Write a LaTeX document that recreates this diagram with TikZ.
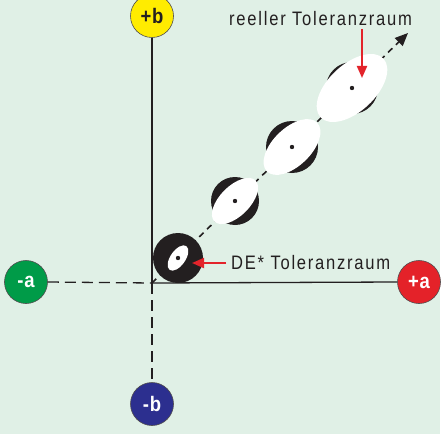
\documentclass[tikz,border=0pt]{standalone}
\usepackage{fontspec}
\setmainfont{Liberation Sans}[FakeStretch=0.85, LetterSpace=9]
\newfontfamily\lblfont{Liberation Sans}[FakeStretch=0.88, LetterSpace=4]
\usetikzlibrary{arrows.meta}
\definecolor{mint}{HTML}{E0F0E6}
\definecolor{ink}{HTML}{231F20}
\definecolor{cyel}{HTML}{FFEC00}
\definecolor{cgrn}{HTML}{009B48}
\definecolor{cred}{HTML}{E42229}
\definecolor{cblu}{HTML}{2C2F8F}
\definecolor{arred}{HTML}{E3242B}
\tikzset{
  axcirc/.style={circle, draw=ink!80, line width=0.6pt, minimum size=43pt, inner sep=0pt,
    font=\lblfont\bfseries\fontsize{21}{21}\selectfont},
  axline/.style={draw=ink, line width=1.3pt},
  axdash/.style={axline, dash pattern=on 11pt off 6pt},
  diag/.style={draw=ink, line width=1.6pt, dash pattern=on 6pt off 5pt, -{Triangle[length=13pt,width=11pt]}},
  redarr/.style={draw=arred, line width=2pt, -{Triangle[length=12pt,width=10pt]}},
  lbl/.style={anchor=west, inner sep=0pt, text=ink, font=\fontsize{19.5}{19.5}\selectfont},
  dot/.style={fill=ink}
}
\begin{document}
\begin{tikzpicture}[x=1pt,y=-1pt]
\useasboundingbox (0,0) rectangle (441,441);
\fill[mint] (0,0) rectangle (440,434);
% axis circles
\node[axcirc, fill=cyel, text=ink] (pb) at (152,16) {+b};
\node[axcirc, fill=cgrn, text=white] (ma) at (26,282) {-a};
\node[axcirc, fill=cred, text=white] (pa) at (419,282) {+a};
\node[axcirc, fill=cblu, text=white] (mb) at (152,404) {-b};
\coordinate (O) at (152,283);
\coordinate (tip) at (408,33);
% axes
\draw[axline] (pb.south) -- (O);
\draw[axdash] (O) -- (mb.north);
\draw[axdash] (ma.east) -- (O);
\draw[axline] (O) -- (pa.west);
% diagonal
\draw[diag] (O) -- (tip);
% tolerance elements
\fill[ink] (178,258) circle[radius=25pt];
\fill[white, shift={(178,258)}, rotate=55] (0,0) ellipse[x radius=14.5pt, y radius=7.5pt];
\fill[dot] (178,258) circle[radius=2.2pt];
\fill[ink] (235,201) circle[radius=24pt];
\fill[white, shift={(235,201)}, rotate=45] (0,0) ellipse[x radius=29pt, y radius=15pt];
\fill[dot] (235,201) circle[radius=2.2pt];
\fill[ink] (292,147) circle[radius=26pt];
\fill[white, shift={(292,147)}, rotate=44] (0,0) ellipse[x radius=35pt, y radius=19pt];
\fill[dot] (292,147) circle[radius=2.2pt];
\fill[ink] (352,88) circle[radius=26pt];
\fill[white, shift={(352,88)}, rotate=43] (0,0) ellipse[x radius=43pt, y radius=23.5pt];
\fill[dot] (352,88) circle[radius=2.2pt];
% labels
\node[lbl] (de) at (231,263) {DE* Toleranzraum};
\node[lbl] (re) at (229,19) {reeller Toleranzraum};
\coordinate (a1) at (192,263);
\coordinate (a2s) at (362,29);
\coordinate (a2) at (362,78);
\draw[redarr] ([xshift=-5pt]de.west) -- (a1);
\draw[redarr] (a2s) -- (a2);
\end{tikzpicture}
\end{document}
